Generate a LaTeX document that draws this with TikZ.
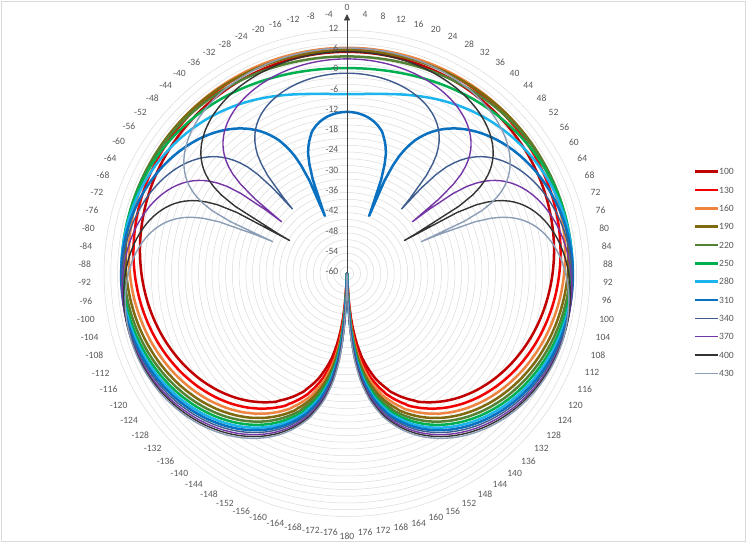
\documentclass[tikz,border=0pt]{standalone}
\usepackage{fontspec}
\setmainfont{Carlito}
\usetikzlibrary{arrows.meta}
\definecolor{c100}{HTML}{C00000}
\definecolor{c130}{HTML}{F00000}
\definecolor{c160}{HTML}{ED8440}
\definecolor{c190}{HTML}{7F6A10}
\definecolor{c220}{HTML}{548235}
\definecolor{c250}{HTML}{00B050}
\definecolor{c280}{HTML}{1CB4EC}
\definecolor{c310}{HTML}{0A70C0}
\definecolor{c340}{HTML}{3E5C8E}
\definecolor{c370}{HTML}{7436A4}
\definecolor{c400}{HTML}{333333}
\definecolor{c430}{HTML}{8C9DB6}
\definecolor{gridgray}{HTML}{DADADA}
\definecolor{labgray}{HTML}{595959}
\definecolor{axisgray}{HTML}{404040}
\tikzset{
  gridline/.style={draw=gridgray, line width=0.5pt},
  border/.style={draw=gridgray, line width=0.8pt},
  alab/.style={font=\fontsize{9.6}{11}\selectfont, text=labgray, inner sep=1pt},
  rlab/.style={font=\fontsize{9.6}{11}\selectfont, text=labgray, inner sep=0pt, anchor=east},
  leglab/.style={font=\fontsize{9.6}{11}\selectfont, text=labgray, inner sep=0pt, anchor=west},
  series/.style={line join=round, line cap=round},
}
\newcommand{\drawseries}[4]{%
  \draw[series, draw=c#1, line width=#2, shift={(C)}]
    plot[samples at={#4}] ({90-\x}:{myrad(\x,#1,#3)}) -- cycle;}
\begin{document}
\begin{tikzpicture}[x=1pt,y=1pt,
  declare function={
    myamp(\t,\f,\e)=abs(2*sin(deg(0.01048*\f*(1+cos(\t))/2)))+\e*(1+cos(\t))/2;
    mylev(\t,\f,\e)=max(8.685889*ln(max(myamp(\t,\f,\e),0.00002))+0.9,-60);
    myrad(\t,\f,\e)=3.375*(mylev(\t,\f,\e)+60);
  }]
\useasboundingbox (0,0) rectangle (750,546);
\draw[border] (1.5,4.5) rectangle (745.5,544.5);
\coordinate (C) at (347,272.5);
% grid circles
\foreach \n in {1,...,36}{
  \draw[gridline] (C) circle[radius=6.75*\n];
}
% angle labels
\foreach \a in {-176,-172,...,180}{
  \pgfmathtruncatemacro\an{mod(630-\a,360)}
  \pgfmathsetmacro\rr{\a==0 ? 262 : (\a==180 ? 258 : 255)}
  \node[alab, anchor=\an] (t\a) at ([shift={({90-\a}:\rr)}]C) {\a};
}
% series
\drawseries{100}{2.5pt}{0}{-179,-178,...,180}
\drawseries{130}{2.5pt}{0}{-179,-178,...,180}
\drawseries{160}{2.5pt}{0}{-179,-178,...,180}
\drawseries{190}{2.5pt}{0}{-179,-178,...,180}
\drawseries{220}{2.5pt}{0}{-179,-178,...,180}
\drawseries{250}{2.5pt}{0}{-179,-178,...,180}
\drawseries{280}{2.5pt}{0}{-179,-178,...,180}
\drawseries{310}{2.5pt}{0.0074}{-179,-178,...,-21,-20.94,-20,-19,...,20,20.94,21,22,...,180}
\drawseries{340}{1.4pt}{0.0162}{-179,-178,...,-41,-40.24,-40,-39,...,40,40.24,41,42,...,180}
\drawseries{370}{1.4pt}{0.0176}{-179,-178,...,-52,-51.66,-51,-50,...,51,51.66,52,53,...,180}
\drawseries{400}{1.4pt}{0.0096}{-179,-178,...,-61,-60.08,-60,-59,...,60,60.08,61,62,...,180}
\drawseries{430}{1.4pt}{0.0183}{-179,-178,...,-67,-66.78,-66,-65,...,66,66.78,67,68,...,180}
% value axis
\coordinate (Atop) at (347,532);
\draw[axisgray, line width=0.9pt, -{Triangle[width=6pt,length=6.5pt]}] (C) -- (Atop);
% radial labels
\foreach \v in {12,6,...,-60}{
  \node[rlab] (r\v) at (338.5,{274.7+(\v+60)*3.375}) {\v};
}
% legend
\foreach \f/\w [count=\i from 0] in {100/2.6pt,130/2.6pt,160/2.6pt,190/2.6pt,220/2.6pt,250/2.6pt,280/2.6pt,310/2.6pt,340/1.4pt,370/1.4pt,400/1.4pt,430/1.4pt}{
  \coordinate (la\i) at (695,{374.3-18.33*\i});
  \coordinate (lb\i) at (717.7,{374.3-18.33*\i});
  \draw[draw=c\f, line width=\w] (la\i) -- (lb\i);
  \node[leglab] (lt\i) at (719,{374.3-18.33*\i}) {\f};
}
\end{tikzpicture}
\end{document}
